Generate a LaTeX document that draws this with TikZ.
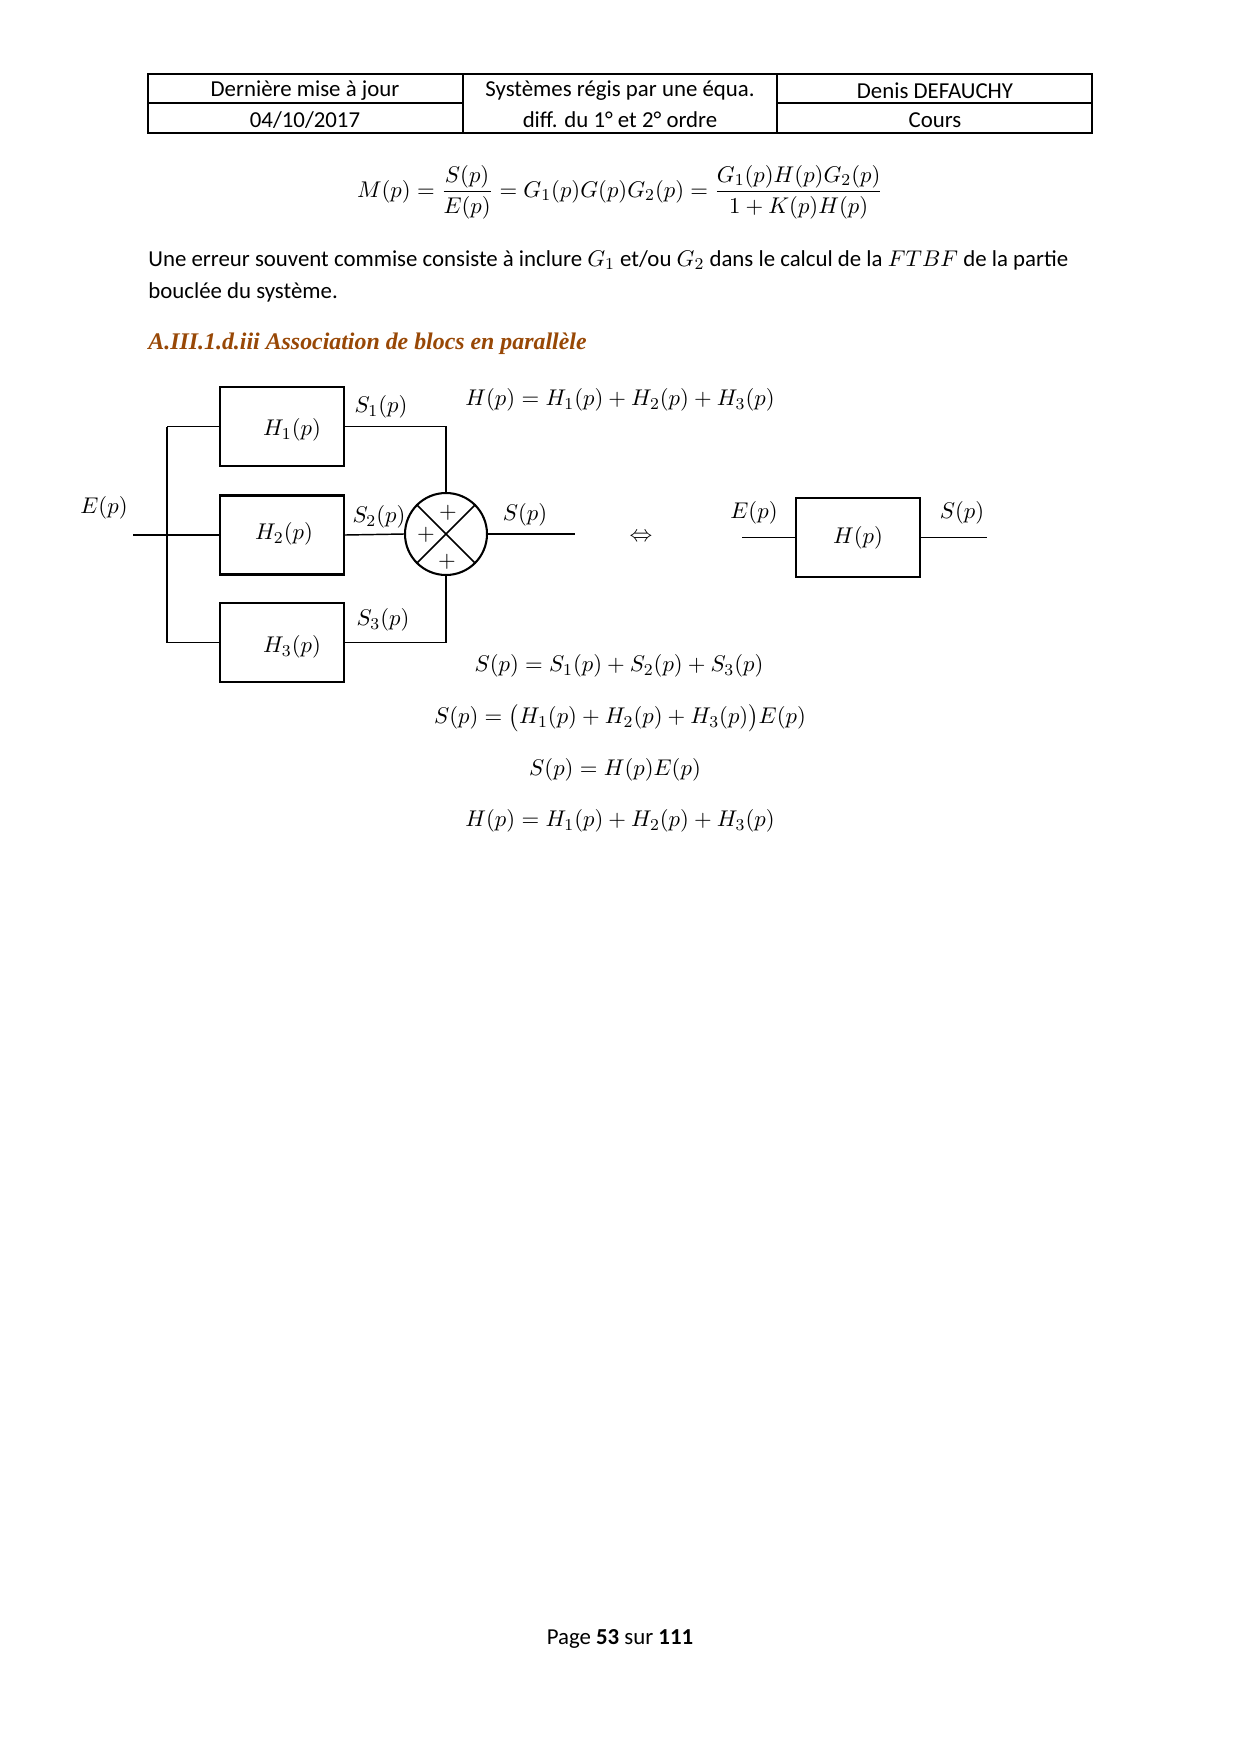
\documentclass[tikz,border=0pt]{standalone}
\usepackage[no-math]{fontspec}
\setmainfont{Carlito}
\newfontfamily\headfont{Liberation Serif}
\usepackage{amsmath}
\definecolor{headbrown}{HTML}{984806}
\newcommand\pxu{0.016933cm}
\begin{document}
\begin{tikzpicture}[x=0.016933cm, y=-0.016933cm,
  every node/.style={font=\fontsize{11pt}{13pt}\selectfont, inner sep=0pt},
  blk/.style={draw, line width=1pt, minimum width={124*\pxu}, minimum height={79*\pxu}},
  wire/.style={line width=0.7pt},
  tbl/.style={line width=0.6pt},
  sumnode/.style={draw, circle, line width=1pt, minimum size={82*\pxu}}]
\useasboundingbox (0,0) rectangle (1240,1754);

% header table
\draw[tbl] (148,74) rectangle (1092,133);
\draw[tbl] (463,74) -- (463,133);
\draw[tbl] (777,74) -- (777,133);
\draw[tbl] (148,103) -- (463,103);
\draw[tbl] (777,103) -- (1092,103);
\node (h1) at (305,91) {Dernière mise à jour};
\node (h2) at (305,120) {04/10/2017};
\node (h3) at (620,91) {Systèmes régis par une équa.};
\node (h4) at (620,120) {diff. du 1° et 2° ordre};
\node (h5) at (935,91) {Denis DEFAUCHY};
\node (h6) at (935,120) {Cours};

% first equation
\node (eqM) at (620,192) {$\displaystyle M(p)=\frac{S(p)}{E(p)}=G_1(p)G(p)G_2(p)=\frac{G_1(p)H(p)G_2(p)}{1+K(p)H(p)}$};

% text
\node[anchor=west] (t1) at (148,260) {Une erreur souvent commise consiste à inclure $G_1$ et/ou $G_2$ dans le calcul de la $FTBF$ de la partie};
\node[anchor=west] (t2) at (148,292) {bouclée du système.};
\node[anchor=west, text=headbrown, font=\headfont\fontsize{11.5pt}{14pt}\selectfont\bfseries\itshape] (sec) at (148,344) {A.III.1.d.iii Association de blocs en parallèle};

% diagram
\node[blk] (H1) at (282,426.5) {};
\node[blk] (H2) at (282,535) {};
\node[blk] (H3) at (282,642.5) {};
\node (H1t) at (292,430) {$H_1(p)$};
\node (H2t) at (284,534) {$H_2(p)$};
\node (H3t) at (292,647) {$H_3(p)$};
\node[sumnode] (sum) at (446,534) {};
\draw[wire] (sum.45) -- (sum.225);
\draw[wire] (sum.135) -- (sum.315);
\node (p1) at (448,513) {$+$};
\node (p2) at (426,535) {$+$};
\node (p3) at (447,562) {$+$};

\coordinate (ein) at (133,535);
\coordinate (jt) at (167,426.5);
\coordinate (jb) at (167,642.5);
\coordinate (sout) at (575,534);
\draw[wire] (ein) -- (H2.west);
\draw[wire] (jt) -- (jb);
\draw[wire] (jt) -- (H1.west);
\draw[wire] (jb) -- (H3.west);
\draw[wire] (H1.east) -| (sum.north);
\draw[wire] (H2.east) -- (sum.west);
\draw[wire] (H3.east) -| (sum.south);
\draw[wire] (sum.east) -- (sout);

\node (lE) at (104,508) {$E(p)$};
\node (lS1) at (381,407) {$S_1(p)$};
\node (lS2) at (379,517) {$S_2(p)$};
\node (lS3) at (383,620) {$S_3(p)$};
\node (lS) at (525,515) {$S(p)$};

\node (eqv) at (641,537) {$\Leftrightarrow$};

\node[blk] (H) at (858,537.5) {$H(p)$};
\coordinate (ein2) at (742,537.5);
\coordinate (sout2) at (987,537.5);
\draw[wire] (ein2) -- (H.west);
\draw[wire] (H.east) -- (sout2);
\node (lE2) at (754,513) {$E(p)$};
\node (lS4) at (962,513) {$S(p)$};

% equations
\node (e0) at (620,400) {$H(p)=H_1(p)+H_2(p)+H_3(p)$};
\node (e1) at (619,666) {$S(p)=S_1(p)+S_2(p)+S_3(p)$};
\node (e2) at (620,718) {$S(p)=\big(H_1(p)+H_2(p)+H_3(p)\big)E(p)$};
\node (e3) at (615,770) {$S(p)=H(p)E(p)$};
\node (e4) at (620,821) {$H(p)=H_1(p)+H_2(p)+H_3(p)$};

% footer
\node (foot) at (620,1639) {Page \textbf{53} sur \textbf{111}};
\end{tikzpicture}
\end{document}
